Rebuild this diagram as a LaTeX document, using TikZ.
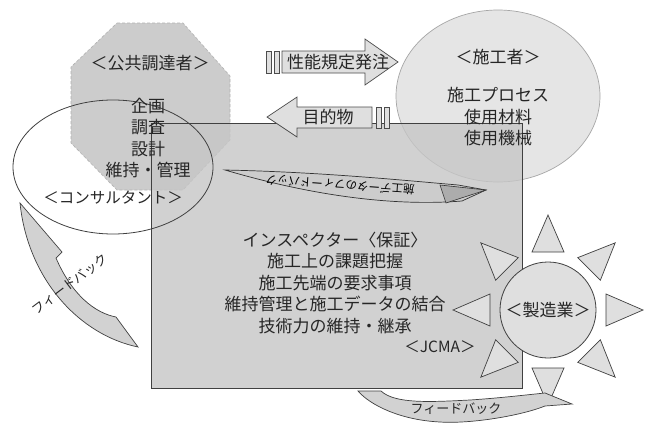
\documentclass[tikz,border=0pt]{standalone}
\usepackage{fontspec}
\setmainfont{Noto Sans CJK JP}
\usetikzlibrary{shapes.geometric,calc}
\tikzset{
  lbl/.style={inner sep=0pt, font=\fontsize{17}{19}\selectfont, text=black!85},
  blk/.style={inner sep=0pt, align=center, font=\fontsize{17}{21.5}\selectfont, text=black!85},
  kana/.style={inner sep=0pt, align=center, font=\fontsize{15.5}{21.5}\selectfont, text=black!85},
  small/.style={inner sep=0pt, font=\fontsize{13}{15}\selectfont, text=black!85},
  arrowshape/.style={fill=gray!25, draw=black!70, line width=0.7pt},
  ray/.style={fill=gray!25, draw=black!75, line width=0.7pt, line join=miter},
}
\begin{document}
\begin{tikzpicture}[x=1pt,y=-1pt]
\useasboundingbox (0,0) rectangle (652,423);
\fill[white] (0,0) rectangle (652,423);

% public procurer octagon
\fill[gray!40] (117,23) -- (183,23) -- (230,76) -- (230,140) -- (183,190) -- (117,190) -- (71,143) -- (71,67) -- cycle;
\draw[gray!60, densely dashed, line width=0.6pt] (117,23) -- (183,23) -- (230,76) -- (230,140) -- (183,190) -- (117,190) -- (71,143) -- (71,67) -- cycle;

% constructor circle
\fill[gray!20] (498,96) ellipse [x radius=102, y radius=86];
\draw[gray!70, line width=0.7pt] (498,96) ellipse [x radius=102, y radius=86];

% JCMA rectangle
\fill[gray!45, fill opacity=0.8] (151,123) rectangle (522,388);
\draw[black!75, line width=0.8pt] (151,123) rectangle (522,388);
% consultant ellipse
\draw[black!75, line width=0.8pt] (113,167) ellipse [x radius=100, y radius=67];

% manufacturer sun
\fill[gray!25] (548,310) circle [radius=48];
\draw[black!75, line width=0.8pt] (548,310) circle [radius=48];
\foreach \a in {0,45,...,315}{
  \draw[ray] ($(548,310)+(\a:95)$) -- ($(548,310)+(\a:58)+(\a+90:16)$) -- ($(548,310)+(\a:58)+(\a-90:16)$) -- cycle;
}

% arrow: performance spec order
\draw[arrowshape] (266,51) rectangle (271,73);
\draw[arrowshape] (274,51) rectangle (279,73);
\draw[arrowshape] (282,51) -- (365,51) -- (365,39) -- (398,62) -- (365,85) -- (365,73) -- (282,73) -- cycle;
\node[lbl] (order) at (338,62) {性能規定発注};

% arrow: deliverable
\draw[arrowshape] (267,117) -- (297,97) -- (297,107) -- (372,107) -- (372,128) -- (297,128) -- (297,137) -- cycle;
\draw[arrowshape] (376,107) rectangle (381,128);
\draw[arrowshape] (384,107) rectangle (389,128);
\node[lbl] (product) at (328,117) {目的物};

% middle swoosh
\fill[gray!40, draw=black!80, line width=0.7pt] (225,170) .. controls (320,172) and (400,180) .. (458,185) -- (486,190) -- (462,201) .. controls (400,206) and (320,198) .. (225,170) -- cycle;
\fill[gray!65, draw=black!80, line width=0.6pt] (440,185) -- (486,190) -- (446,203) -- cycle;
\node[inner sep=0pt, font=\fontsize{11.5}{12}\selectfont, rotate=176] (swtext) at (340,185) {施工データのフィードバック};

% left feedback arrow
\fill[gray!35, draw=black!75, line width=0.7pt] (20,203) -- (62,252) -- (56,258) .. controls (72,295) and (95,313) .. (116,317) -- (138,347) .. controls (80,335) and (28,280) .. (20,203) -- cycle;
\node[small, rotate=37] (fb1) at (70,284) {フィードバック};

% bottom feedback arrow
\fill[gray!35, draw=black!75, line width=0.7pt] (358,391) -- (381,391) .. controls (395,404) and (430,402) .. (470,400) .. controls (500,398) and (525,395) .. (545,393) -- (572,404) -- (545,406) .. controls (520,416) and (470,424) .. (440,422) .. controls (400,420) and (370,405) .. (358,391) -- cycle;
\node[small] (fb2) at (456,409) {フィードバック};

% texts
\node[blk] (procurer) at (150,63) {＜公共調達者＞};
\node[blk] (ptasks) at (148,138) {企画\\調査\\設計\\維持・管理};
\node[kana] (consult) at (113,198) {＜コンサルタント＞};
\node[blk] (builder) at (498,57) {＜施工者＞};
\node[blk] (btasks) at (498,117) {施工プロセス\\使用材料\\使用機械};
\node[blk] (jtasks) at (335,283) {インスペクター〈保証〉\\施工上の課題把握\\施工先端の要求事項\\維持管理と施工データの結合\\技術力の維持・継承};
\node[kana] (jcma) at (440,347) {＜JCMA＞};
\node[blk] (maker) at (548,310) {＜製造業＞};
\end{tikzpicture}
\end{document}
